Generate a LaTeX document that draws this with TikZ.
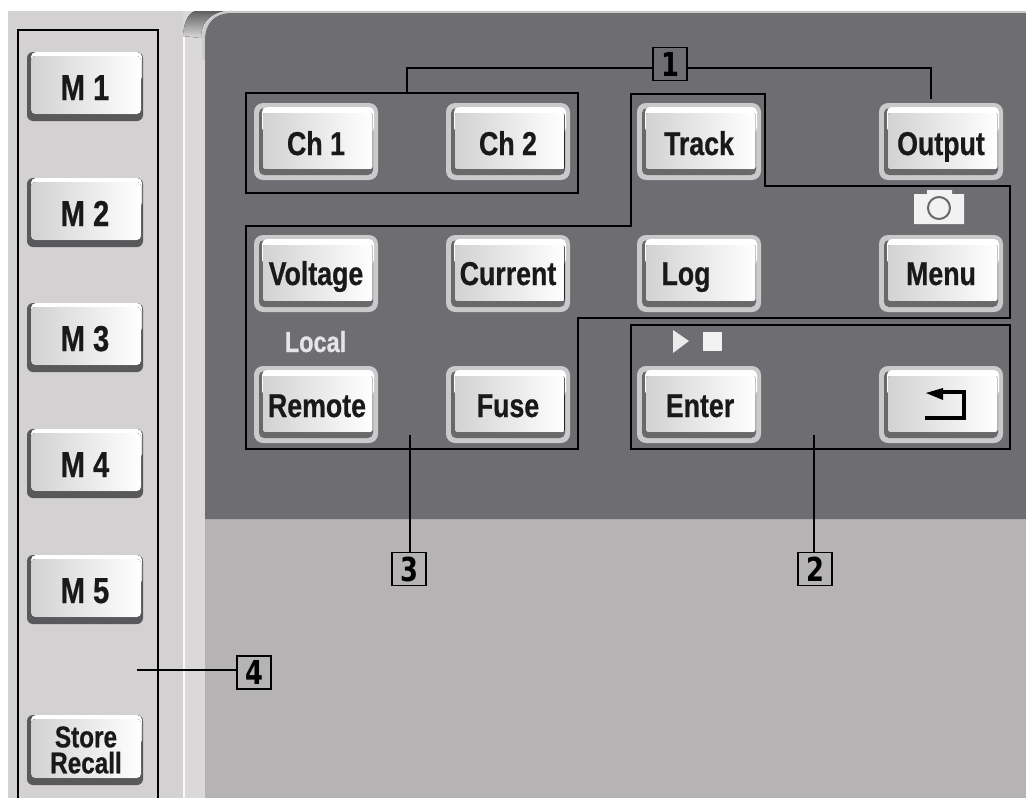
\documentclass[tikz,border=0pt]{standalone}
\usepackage{fontspec}
\setmainfont{Liberation Sans}[FakeStretch=0.8,BoldFeatures={FakeStretch=0.81,FakeBold=0.6}]
\newfontfamily\digitfont{DejaVu Sans Bold}[FakeStretch=0.78]
\definecolor{panel}{HTML}{D3D1D1}
\definecolor{band}{HTML}{DAD8D9}
\definecolor{darkp}{HTML}{6E6D72}
\definecolor{lowp}{HTML}{B5B3B4}
\definecolor{rim}{HTML}{CBCACB}
\definecolor{bevel}{HTML}{69686B}
\definecolor{keyl}{HTML}{D2D2D2}
\newcommand{\darkkey}[6]{%
 \fill[rim,rounded corners=9] (#2,#3) rectangle (#2+124,#3+77);
 \fill[bevel,rounded corners=5] (#2+5,#3+5) rectangle (#2+119,#3+72);
 \fill[white,rounded corners=5] (#2+8,#3+4) rectangle (#2+120,#3+30);
 \fill[left color=keyl,right color=white,rounded corners=2] (#2+9,#3+10) rectangle (#2+118.5,#3+66);
 \node[keytext] (#1) at (#2+62+#5,#3+#6) {#4};}
\newcommand{\lightkey}[4]{%
 \fill[bevel!85!black,rounded corners=6] (#2,#3) rectangle (#2+116,#3+69);
 \fill[white,rounded corners=5] (#2+4,#3) rectangle (#2+115,#3+30);
 \fill[left color=keyl,right color=white,rounded corners=4] (#2+4,#3+4) rectangle (#2+114,#3+62);
 \node[mkeytext] (#1) at (#2+58,#3+48) {#4};}
\tikzset{
 keytext/.style={inner sep=0,anchor=base,font=\fontsize{33}{33}\selectfont\bfseries,text=black!90},
 mkeytext/.style={inner sep=0,anchor=base,font=\fontsize{36}{36}\selectfont\bfseries,text=black!90,align=center},
 groupbox/.style={draw=black,line width=1.5},
 callout/.style={draw=black,line width=1.5,inner sep=0,minimum width=34,minimum height=33,
   font=\fontsize{33}{33}\digitfont,text=black},
 leader/.style={draw=black,line width=1.5},
}
\begin{document}
\begin{tikzpicture}[x=1pt,y=-1pt]
\useasboundingbox (0,0) rectangle (1026,798);
\fill[white] (0,0) rectangle (1026,798);
% body
\fill[panel] (8,11) rectangle (1026,798);
\fill[band] (183,11) rectangle (205,798);
\fill[white!85!band] (183,30) rectangle (185,798);
\fill[top color=black!62,bottom color=band] (183,36) .. controls (184,20) and (190,11) .. (197,11) -- (224,11) .. controls (208,14) and (201,24) .. (201,38) -- cycle;
\fill[lowp] (205,510) rectangle (1026,798);
\draw[rim,line width=2.5] (203.5,60) -- (203.5,40) .. controls (203.5,23) and (213,12) .. (232,12) -- (1026,12);
\fill[darkp] (205,519) -- (205,40) .. controls (205,24) and (214,13) .. (232,13) -- (1026,13) -- (1026,519) -- cycle;
% light keys
\lightkey{m1}{27}{52}{M 1}
\lightkey{m2}{27}{178}{M 2}
\lightkey{m3}{27}{303}{M 3}
\lightkey{m4}{27}{429}{M 4}
\lightkey{m5}{27}{555}{M 5}
\fill[bevel!85!black,rounded corners=6] (27,715) rectangle (143,785);
\fill[white,rounded corners=5] (31,715) rectangle (142,745);
\fill[left color=keyl,right color=white,rounded corners=4] (31,719) rectangle (141,778);
\node[inner sep=0,font=\fontsize{30}{26}\selectfont\bfseries,text=black!90,align=center] (store) at (86,750) {Store\\Recall};
% dark keys
\darkkey{ch1}{254}{103}{Ch 1}{0}{52}
\darkkey{ch2}{446}{103}{Ch 2}{0}{52}
\darkkey{track}{637}{103}{Track}{0}{52}
\darkkey{output}{879}{103}{Output}{0}{52}
\darkkey{voltage}{254}{235}{Voltage}{0}{50}
\darkkey{current}{446}{235}{Current}{0}{50}
\darkkey{logk}{637}{235}{Log}{-13}{50}
\darkkey{menu}{879}{235}{Menu}{0}{50}
\darkkey{remote}{254}{366}{Remote}{1}{51}
\darkkey{fuse}{446}{366}{Fuse}{0}{51}
\darkkey{enter}{637}{366}{Enter}{1}{51}
\darkkey{back}{879}{366}{}{0}{51}
% back arrow
\draw[black,line width=3.2] (925,418) -- (964,418) -- (964,392) -- (938,392);
\fill[black] (926,393) -- (943,388) -- (943,400) -- cycle;
% printed marks
\node[inner sep=0,anchor=base,font=\fontsize{29}{29}\selectfont\bfseries,text=black!10] (local) at (315.5,352) {Local};
\fill[black!5] (914,194) -- (927,194) -- (927,190) -- (952,190) -- (952,194) -- (964,194) -- (964,224) -- (914,224) -- cycle;
\draw[bevel,line width=2] (939,208) circle (11);
\fill[black!8] (673,330) -- (689,341) -- (673,353) -- cycle;
\fill[black!5] (703,332) rectangle (722,351);
% group outlines
\draw[groupbox] (18,798) -- (18,30) -- (158,30) -- (158,798);
\node[groupbox,inner sep=0,minimum width=332,minimum height=100] (chgroup) at (412,143) {};
\draw[groupbox] (631,94) -- (765,94) -- (765,186) -- (1010,186) -- (1010,318) -- (578,318) -- (578,449) -- (246,449) -- (246,226) -- (631,226) -- cycle;
\draw[groupbox] (631,325) rectangle (1010,449);
% callouts
\node[callout] (c1) at (670,64) {1};
\node[callout] (c2) at (815,569) {2};
\node[callout] (c3) at (409,569) {3};
\node[callout] (c4) at (254,672.5) {4};
\coordinate (e0) at (407,93);
\coordinate (e1) at (931,99);
\coordinate (e2) at (814,435);
\coordinate (e3) at (410,435);
\coordinate (e4) at (137,670);
\draw[leader] (e0) |- (c1.west |- 0,68);
\draw[leader] (c1.east |- 0,68) -| (e1);
\draw[leader] (e2) -- (e2 |- c2.north);
\draw[leader] (e3) -- (e3 |- c3.north);
\draw[leader] (e4) -- (c4.west |- e4);
\end{tikzpicture}
\end{document}
